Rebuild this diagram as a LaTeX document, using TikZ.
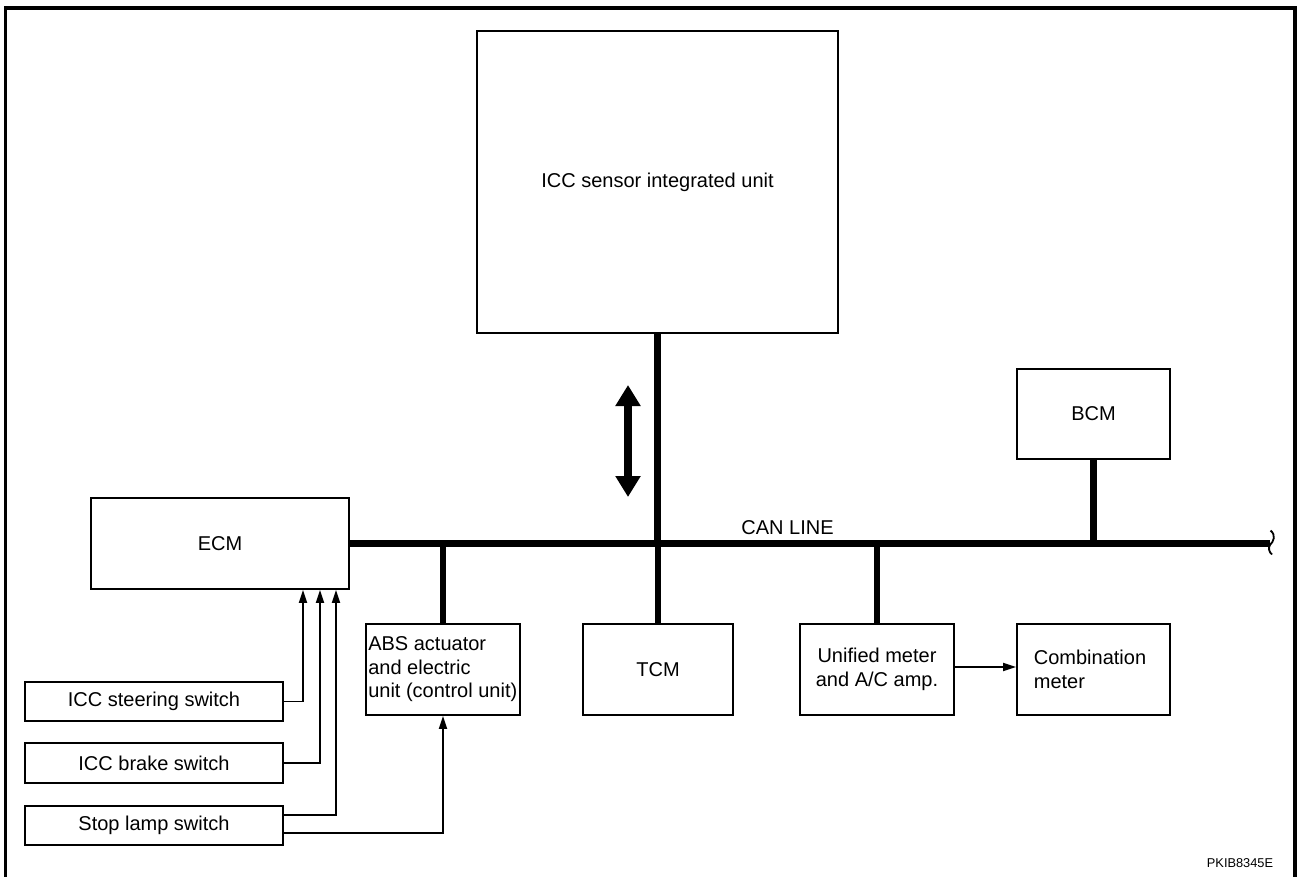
\documentclass[tikz,border=0pt]{standalone}
\usepackage{fontspec}
\setmainfont{Liberation Sans}
\usetikzlibrary{arrows.meta}
\begin{document}
\begin{tikzpicture}[x=1pt,y=-1pt,
  box/.style={draw,line width=1.8pt,rectangle,inner sep=0pt,font=\fontsize{20}{23.5}\selectfont,align=center},
  lbl/.style={inner sep=0pt,font=\fontsize{20}{23.5}\selectfont},
  bus/.style={line width=6.5pt},
  thin/.style={line width=1.8pt},
  arr/.style={line width=1.8pt,-{Triangle[length=13pt,width=8pt]}},
  frame/.style={line width=3.5pt}]
\useasboundingbox (0,0) rectangle (1297,876);
% frame
\coordinate (f1) at (5.5,880);
\coordinate (f2) at (5.5,8);
\coordinate (f3) at (1295,8);
\coordinate (f4) at (1295,880);
\draw[frame] (f1) -- (f2) -- (f3) -- (f4);
% boxes
\node[box,minimum width=361pt,minimum height=302pt] (icc) at (657.5,182) {ICC sensor integrated unit};
\node[box,minimum width=258pt,minimum height=91pt] (ecm) at (220,543.5) {ECM};
\node[box,minimum width=154pt,minimum height=91pt] (abs) at (443,669.5) {};
\node[lbl,anchor=west,align=left] (abstxt) at ([xshift=3pt]abs.west) {ABS actuator\\and electric\\unit (control unit)};
\node[box,minimum width=150pt,minimum height=91pt] (tcm) at (658,669.5) {TCM};
\node[box,minimum width=154pt,minimum height=91pt] (uni) at (877,669.5) {Unified meter\\and A/C amp.};
\node[box,minimum width=153pt,minimum height=91pt] (comb) at (1093.5,669.5) {};
\node[lbl,align=left] (combtxt) at (1090,669.5) {Combination\\meter};
\node[box,minimum width=153pt,minimum height=90pt] (bcm) at (1093.5,414) {BCM};
\node[box,minimum width=258pt,minimum height=39pt] (steer) at (154,701.5) {ICC steering switch};
\node[box,minimum width=258pt,minimum height=40pt] (brake) at (154,763) {ICC brake switch};
\node[box,minimum width=258pt,minimum height=39pt] (stop) at (154,825.5) {Stop lamp switch};
% CAN bus
\coordinate (canend) at (1270,543.5);
\draw[bus] (ecm.east) -- (canend);
\draw[thin] (1270.5,530.5) .. controls (1276,535) and (1274,541) .. (1270,545) .. controls (1268,548) and (1269,552) .. (1272,554.5);
\node[lbl] (can) at (787.5,528) {CAN LINE};
\draw[bus] (icc.south) -- (icc.south |- ecm.east);
\draw[bus] (bcm.south) -- (bcm.south |- ecm.east);
\draw[bus] (abs.north) -- (abs.north |- ecm.east);
\draw[bus] (tcm.north) -- (tcm.north |- ecm.east);
\draw[bus] (uni.north) -- (uni.north |- ecm.east);
% double arrow
\coordinate (dt) at (628,385);
\coordinate (db) at (628,497);
\draw[line width=8pt,{Triangle[length=21pt,width=24pt]}-{Triangle[length=21pt,width=24pt]}] (dt) -- (db);
% switch connectors
\draw[arr] (steer.east) -| ([xshift=83pt]ecm.south);
\draw[arr] (brake.east) -| ([xshift=100pt]ecm.south);
\draw[arr] ([yshift=10.5pt]stop.east) -| ([xshift=116pt]ecm.south);
\draw[arr] ([yshift=-7.5pt]stop.east) -| (abs.south);
\draw[arr] ([yshift=2.5pt]uni.east) -- ([yshift=2.5pt]comb.west);
% code
\node[inner sep=0pt,font=\fontsize{12.8}{14}\selectfont] (code) at (1240,863) {PKIB8345E};
\end{tikzpicture}
\end{document}
